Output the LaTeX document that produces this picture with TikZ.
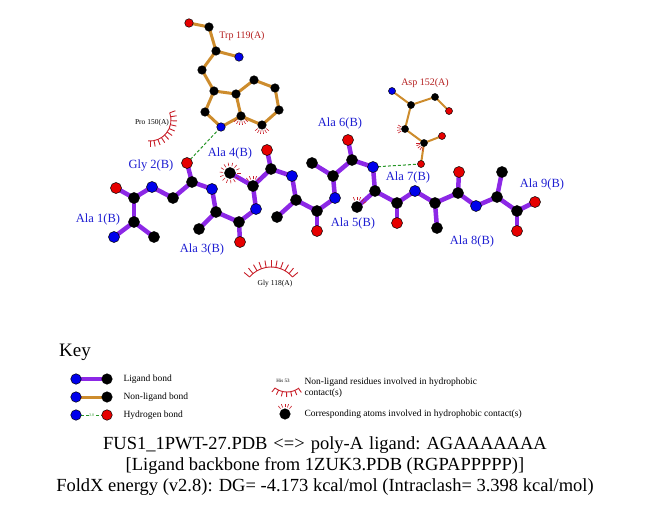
\documentclass[tikz,border=0pt]{standalone}
\usepackage{fontspec}
\setmainfont{Liberation Serif}
\pgfdeclarelayer{bonds}
\pgfsetlayers{bonds,main}
\definecolor{ligpurple}{RGB}{140,40,230}
\definecolor{resbrown}{RGB}{205,140,45}
\definecolor{hbgreen}{RGB}{40,150,40}
\definecolor{atomblue}{RGB}{0,0,235}
\definecolor{atomred}{RGB}{230,0,0}
\definecolor{labblue}{RGB}{30,30,210}
\definecolor{labred}{RGB}{180,30,30}
\definecolor{hpred}{RGB}{200,30,40}
\tikzset{
  atom/.style={circle, draw=black, line width=0.5pt, inner sep=0pt, minimum size=#1},
  atom/.default=11pt,
  Cat/.style={atom=#1, fill=black}, Cat/.default=11pt,
  Nat/.style={atom=#1, fill=atomblue}, Nat/.default=11pt,
  Oat/.style={atom=#1, fill=atomred}, Oat/.default=11pt,
  ligbond/.style={ligpurple, line width=4.5pt},
  trpbond/.style={resbrown, line width=3pt},
  aspbond/.style={resbrown, line width=2pt},
  hbond/.style={hbgreen, line width=1pt, dash pattern=on 3pt off 2pt},
  hspoke/.style={hpred, line width=0.6pt},
  hparc/.style={hpred, line width=0.9pt},
  liglab/.style={labblue, font=\fontsize{12.5}{14}\selectfont},
  reslab/.style={labred, font=\fontsize{10}{12}\selectfont},
  hplab/.style={black, font=\fontsize{7.5}{9}\selectfont},
  keytext/.style={anchor=west, font=\fontsize{9.5}{11}\selectfont, align=left},
}
% spokes of a hydrophobic contact round an atom
\newcommand{\hphob}[3]{\foreach \t in {#2} \draw[hspoke] (#1.center) ++(\t:#3) -- ++(\t:3.5);}
\begin{document}
\begin{tikzpicture}[x=1pt,y=1pt]
\useasboundingbox (0,0) rectangle (651,-511);
% ligand
\node[Nat] (N1) at (114,-237) {};
\node[Cat] (CA1) at (134,-222) {};
\node[Cat] (CB1) at (154,-237) {};
\node[Cat] (C1) at (134,-198) {};
\node[Oat] (O1) at (116,-188) {};
\node[Nat] (N2) at (152,-187) {};
\node[Cat] (CA2) at (173,-198) {};
\node[Cat] (C2) at (192,-182) {};
\node[Oat] (O2) at (187,-163) {};
\node[Nat] (N3) at (212,-189) {};
\node[Cat] (CA3) at (216,-212) {};
\node[Cat] (CB3) at (199,-229) {};
\node[Cat] (C3) at (239,-222) {};
\node[Oat] (O3) at (240,-242) {};
\node[Nat] (N4) at (256,-209) {};
\node[Cat] (CA4) at (253,-186) {};
\node[Cat] (CB4) at (230,-173) {};
\node[Cat] (C4) at (271,-169) {};
\node[Oat] (O4) at (267,-150) {};
\node[Nat] (N5) at (292,-176) {};
\node[Cat] (CA5) at (296,-200) {};
\node[Cat] (CB5) at (277,-217) {};
\node[Cat] (C5) at (317,-211) {};
\node[Oat] (O5) at (317,-231) {};
\node[Nat] (N6) at (335,-198) {};
\node[Cat] (CA6) at (333,-176) {};
\node[Cat] (CB6) at (312,-163) {};
\node[Cat] (C6) at (352,-160) {};
\node[Oat] (O6) at (348,-140) {};
\node[Nat] (N7) at (373,-167) {};
\node[Cat] (CA7) at (375,-191) {};
\node[Cat] (CB7) at (357,-207) {};
\node[Cat] (C7) at (397,-203) {};
\node[Oat] (O7) at (397,-223) {};
\node[Nat] (N8) at (415,-191) {};
\node[Cat] (CA8) at (435,-203) {};
\node[Cat] (CB8) at (437,-228) {};
\node[Cat] (C8) at (458,-193) {};
\node[Oat] (O8) at (459,-172) {};
\node[Nat] (N9) at (476,-206) {};
\node[Cat] (CA9) at (497,-197) {};
\node[Cat] (CB9) at (502,-172) {};
\node[Cat] (C9) at (517,-211) {};
\node[Oat] (O9) at (535,-202) {};
\node[Oat] (OXT) at (517,-231) {};
% Trp 119
\node[Oat=8.5pt] (wO) at (189,-23) {};
\node[Cat=8.5pt] (wC) at (209,-27) {};
\node[Cat=8.5pt] (wCA) at (216,-51) {};
\node[Nat=8.5pt] (wN) at (239,-57) {};
\node[Cat=8.5pt] (wCB) at (202,-70) {};
\node[Cat=8.5pt] (wCG) at (214,-91) {};
\node[Cat=8.5pt] (wCD2) at (236,-94) {};
\node[Cat=8.5pt] (wCE3) at (254,-80) {};
\node[Cat=8.5pt] (wCZ3) at (275,-88) {};
\node[Cat=8.5pt] (wCH2) at (279,-110) {};
\node[Cat=8.5pt] (wCZ2) at (262,-125) {};
\node[Cat=8.5pt] (wCE2) at (241,-116) {};
\node[Nat=8.5pt] (wNE1) at (221,-127) {};
\node[Cat=8.5pt] (wCD1) at (205,-112) {};
% Asp 152
\node[Nat=7pt] (dN) at (392,-91) {};
\node[Cat=7pt] (dCA) at (411,-105) {};
\node[Cat=7pt] (dC) at (435,-97) {};
\node[Oat=7pt] (dO) at (449,-111) {};
\node[Cat=7pt] (dCB) at (405,-129) {};
\node[Cat=7pt] (dCG) at (424,-143) {};
\node[Oat=7pt] (dOD1) at (442,-136) {};
\node[Oat=7pt] (dOD2) at (421,-164) {};
\begin{pgfonlayer}{bonds}
\foreach \a/\b in {N1/CA1, CA1/CB1, CA1/C1, C1/O1, C1/N2, N2/CA2, CA2/C2, C2/O2,
  C2/N3, N3/CA3, CA3/CB3, CA3/C3, C3/O3, C3/N4, N4/CA4, CA4/CB4, CA4/C4, C4/O4,
  C4/N5, N5/CA5, CA5/CB5, CA5/C5, C5/O5, C5/N6, N6/CA6, CA6/CB6, CA6/C6, C6/O6,
  C6/N7, N7/CA7, CA7/CB7, CA7/C7, C7/O7, C7/N8, N8/CA8, CA8/CB8, CA8/C8, C8/O8,
  C8/N9, N9/CA9, CA9/CB9, CA9/C9, C9/O9, C9/OXT}
  \draw[ligbond] (\a.center) -- (\b.center);
\foreach \a/\b in {wO/wC, wC/wCA, wCA/wN, wCA/wCB, wCB/wCG, wCG/wCD1, wCD1/wNE1,
  wNE1/wCE2, wCE2/wCD2, wCD2/wCG, wCD2/wCE3, wCE3/wCZ3, wCZ3/wCH2, wCH2/wCZ2, wCZ2/wCE2}
  \draw[trpbond] (\a.center) -- (\b.center);
\foreach \a/\b in {dN/dCA, dCA/dC, dC/dO, dCA/dCB, dCB/dCG, dCG/dOD1, dCG/dOD2}
  \draw[aspbond] (\a.center) -- (\b.center);
\draw[hbond] (O2.center) -- (wNE1.center);
\draw[hbond] (N7.center) -- (dOD2.center);
\end{pgfonlayer}
% hydrophobic contacts
\hphob{CB4}{0,25,...,335}{7}
\hphob{CA4}{50,70,...,130}{7}
\hphob{CB7}{30,50,...,110}{7}
\hphob{wCE2}{-140,-120,...,-40}{5.5}
\hphob{wCZ2}{-140,-120,...,-40}{5.5}
\hphob{dCB}{150,170,...,210}{4.5}
\hphob{dCG}{180,200,...,260}{4.5}
\coordinate (pro) at (150,-120);
\draw[hparc] (pro) ++(20:21) arc[start angle=20, end angle=-95, radius=21];
\foreach \t in {20,9,...,-95} \draw[hparc] (pro) ++(\t:21) -- ++(\t:6);
\coordinate (gly) at (271,-295);
\draw[hparc] (gly) ++(40:28) arc[start angle=40, end angle=140, radius=28];
\foreach \t in {40,50,...,140} \draw[hparc] (gly) ++(\t:28) -- ++(\t:7);
% labels
\node[liglab] (l1) at (98,-219) {Ala 1(B)};
\node[liglab] (l2) at (151,-166) {Gly 2(B)};
\node[liglab] (l3) at (202,-249) {Ala 3(B)};
\node[liglab] (l4) at (230,-153) {Ala 4(B)};
\node[liglab] (l5) at (353,-223) {Ala 5(B)};
\node[liglab] (l6) at (340,-123) {Ala 6(B)};
\node[liglab] (l7) at (408,-177) {Ala 7(B)};
\node[liglab] (l8) at (472,-241) {Ala 8(B)};
\node[liglab] (l9) at (542,-184) {Ala 9(B)};
\node[reslab] (ltrp) at (242,-36) {Trp 119(A)};
\node[reslab] (lasp) at (425,-83) {Asp 152(A)};
\node[hplab] (lpro) at (152,-123) {Pro 150(A)};
\node[hplab] (lgly) at (275,-284) {Gly 118(A)};
% key
\node[font=\fontsize{19}{22}\selectfont] (key) at (75,-352) {Key};
\node[Nat=10.5pt] (k1a) at (76,-379) {};
\node[Cat=10.5pt] (k1b) at (107,-379) {};
\node[Nat=10.5pt] (k2a) at (76,-397) {};
\node[Cat=10.5pt] (k2b) at (107,-397) {};
\node[Nat=10.5pt] (k3a) at (76,-415) {};
\node[Oat=10.5pt] (k3b) at (107,-415) {};
\begin{pgfonlayer}{bonds}
\draw[ligbond] (k1a.center) -- (k1b.center);
\draw[trpbond] (k2a.center) -- (k2b.center);
\draw[hbond] (k3a.center) -- node[fill=white, inner sep=0.5pt, text=hbgreen,
  font=\fontsize{4}{5}\selectfont] (k3d) {3.0} (k3b.center);
\end{pgfonlayer}
\node[keytext] (k1t) at (120,-379) {Ligand bond};
\node[keytext] (k2t) at (120,-397) {Non-ligand bond};
\node[keytext] (k3t) at (120,-415) {Hydrogen bond};
\node[font=\fontsize{5}{6}\selectfont] (khis) at (283,-381) {His 53};
\coordinate (keyarc) at (287,-372);
\draw[hparc] (keyarc) ++(233:20) arc[start angle=233, end angle=307, radius=20];
\foreach \t in {233,245,...,307} \draw[hparc] (keyarc) ++(\t:20) -- ++(\t:5);
\node[keytext] (k4t) at (301,-387.5) {Non-ligand residues involved in hydrophobic\\contact(s)};
\node[Cat=10.5pt] (k5a) at (285,-414) {};
\hphob{k5a}{50,70,...,130}{7}
\node[keytext] (k5t) at (301,-414) {Corresponding atoms involved in hydrophobic contact(s)};
% title
\node[font=\fontsize{18.5}{21}\selectfont, align=center] (title) at (325,-466)
  {\spaceskip=6pt\relax\xspaceskip=6pt\relax FUS1\_1PWT-27.PDB <=> poly-A ligand: AGAAAAAAA\\{[}Ligand backbone from 1ZUK3.PDB (RGPAPPPPP)]\\FoldX energy (v2.8): DG= -4.173 kcal/mol (Intraclash= 3.398 kcal/mol)};
\end{tikzpicture}
\end{document}
